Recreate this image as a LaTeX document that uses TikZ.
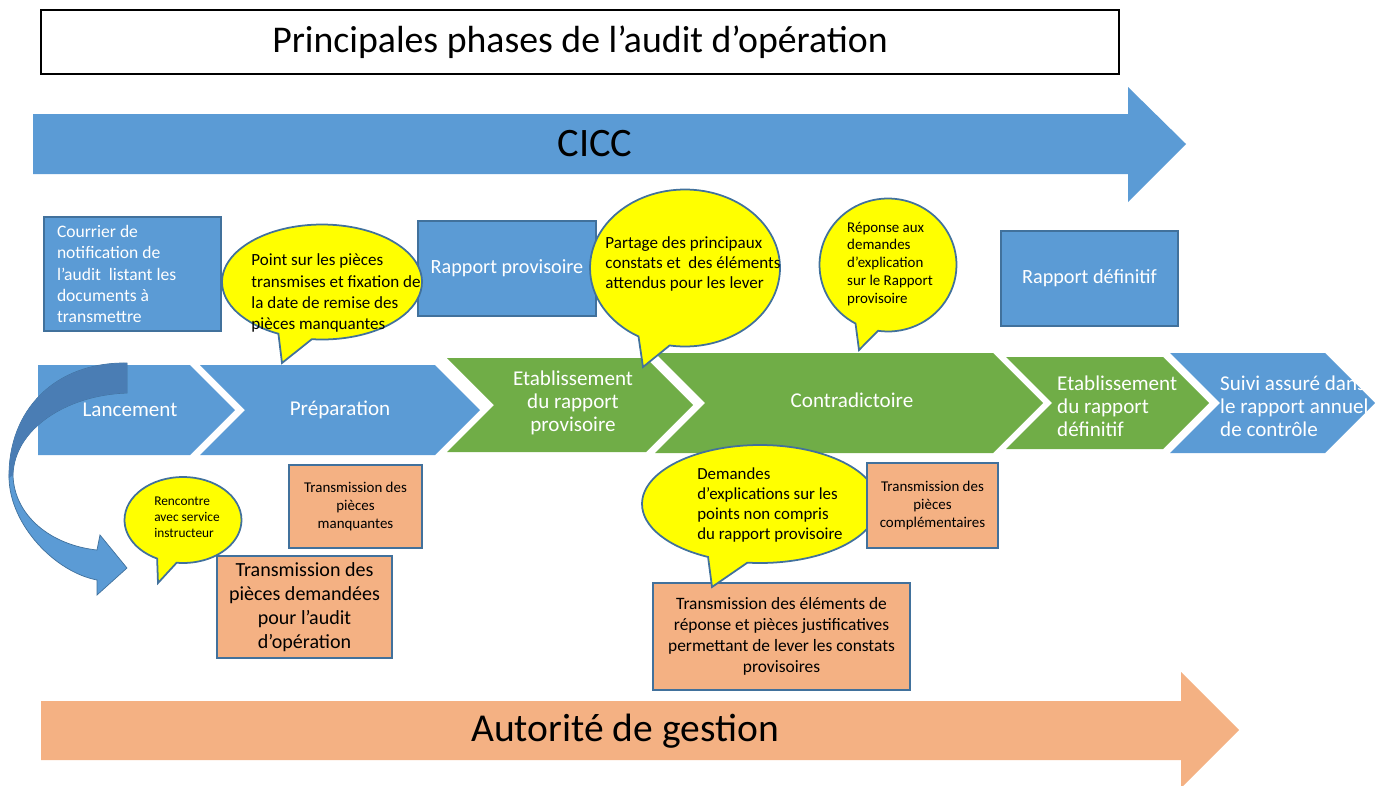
\documentclass[tikz,border=0pt]{standalone}
\usepackage{fontspec}
\setmainfont{Carlito}
\usetikzlibrary{shapes,shapes.callouts}
\definecolor{boxblue}{HTML}{5B9BD5}
\definecolor{boxline}{HTML}{41719C}
\definecolor{stepgreen}{HTML}{70AD47}
\definecolor{boxorange}{HTML}{F4B183}
\definecolor{bubbleyellow}{HTML}{FFFF00}
\definecolor{arrowdark}{HTML}{4A7DB4}
\tikzset{
	bluebox/.style   = {draw=boxline, fill=boxblue, line width=1pt, rectangle, text=white},
	orangebox/.style = {draw=boxline, fill=boxorange, line width=1pt, rectangle, align=center},
	bubble/.style    = {ellipse callout, draw=boxline, fill=bubbleyellow, line width=1pt,
		callout pointer arc=20},
	bubbletxt/.style = {align=left, inner sep=0pt},
	phasetxt/.style  = {text=white, align=center, font=\fontsize{12}{13}\selectfont},
	bluestep/.style  = {fill=boxblue},
	greenstep/.style = {fill=stepgreen}
}
\newcommand{\fsz}[2]{\fontsize{#1}{#2}\selectfont}

\begin{document}
\begin{tikzpicture}[x=0.02cm, y=-0.02cm, >=latex]
	\useasboundingbox (0,0) rectangle (1375,785);
	
	% title and the two actors
	\draw node at (580,42)[rectangle, draw, line width=0.8pt, minimum width=21.56cm,
		minimum height=1.28cm, font=\fsz{21.5}{25}] (title) {Principales phases de l’audit d’opération};
	\fill[boxblue] (33,114) -- (1128,114) -- (1128,87) -- (1186,144) -- (1128,202) -- (1128,174) -- (33,174) -- cycle;
	\node at (595,144)[font=\fsz{23}{26}] (cicc) {CICC};
	\fill[boxorange] (41,701) -- (1181,701) -- (1181,672) -- (1239,730) -- (1181,788) -- (1181,760) -- (41,760) -- cycle;
	\node at (625,731)[font=\fsz{22.5}{26}] (ag) {Autorité de gestion};
	
	% phases
	\fill[bluestep] (38,365) -- (190,365) -- (235,410) -- (190,455) -- (38,455) -- cycle;
	\fill[bluestep] (200,365) -- (435,365) -- (480,410) -- (435,455) -- (200,455) -- (245,410) -- cycle;
	\fill[greenstep] (447,358) -- (646,358) -- (693,405) -- (646,452) -- (447,452) -- (494,405) -- cycle;
	\fill[greenstep] (655,353) -- (993,353) -- (1043,403) -- (993,453) -- (655,453) -- (705,403) -- cycle;
	\fill[greenstep] (1006,357) -- (1163,357) -- (1209,403) -- (1163,449) -- (1006,449) -- (1052,403) -- cycle;
	\fill[bluestep] (1170,353) -- (1325,353) -- (1375,403) -- (1325,453) -- (1170,453) -- (1220,403) -- cycle;
	\draw
	node at (130,410)[phasetxt] (lanc) {Lancement}
	node at (340,410)[phasetxt] (prep) {Préparation}
	node at (573,403)[phasetxt] (etabprov) {Etablissement\\du rapport\\provisoire}
	node at (852,400)[phasetxt] (contra) {Contradictoire}
	node at (1051,406)[phasetxt, anchor=west, align=left] (etabdef) {Etablissement\\du rapport\\définitif}
	node at (1214,406)[phasetxt, anchor=west, align=left] (suivi) {Suivi assuré dans\\le rapport annuel\\de contrôle};
	
	% curved arrow
	\filldraw[fill=boxblue, draw=boxline, line width=0.4pt] (127,363) .. controls (55,362) and (8,410) .. (9,478)
	.. controls (10,525) and (55,572) .. (97,580) -- (97,595) -- (127,568) -- (100,535) -- (97,550)
	.. controls (50,545) and (14,515) .. (13,475) .. controls (14,430) and (65,395) .. (127,393) -- cycle;
	\fill[arrowdark] (127,363) .. controls (55,362) and (8,410) .. (9,478) -- (13,475)
	.. controls (14,430) and (65,395) .. (127,393) -- cycle;
	
	% CICC side
	\node at (132.5,274)[bluebox, minimum width=3.54cm, minimum height=2.28cm, text width=3.02cm,
		align=flush left, font=\fsz{10}{12}] (courrier) {Courrier de\\notification de\\l’audit\ \ listant les\\documents à\\transmettre};
	\node at (507,268.5)[bluebox, minimum width=3.56cm, minimum height=1.9cm, font=\fsz{11.5}{14}] (rprov) {Rapport provisoire};
	\node at (1089.5,278.5)[bluebox, minimum width=3.54cm, minimum height=1.9cm, font=\fsz{11.5}{14}] (rdef) {Rapport définitif};
	\node at (355.5,506.5)[orangebox, minimum width=2.66cm, minimum height=1.66cm, font=\fsz{8.5}{10.2}] (manq) {Transmission des\\pièces\\manquantes};
	
	\node at (322,282)[bubble, minimum width=4cm, minimum height=2.3cm, callout absolute pointer={(282,363)}] (point) {};
	\node at (336,293)[bubbletxt, font=\fsz{9.7}{12}] (pointtxt) {Point sur les pièces\\transmises et fixation de\\la date de remise des\\pièces manquantes};
	\node at (685,268)[bubble, minimum width=3.8cm, minimum height=3.14cm, callout absolute pointer={(643,367)}] (partage) {};
	\node at (693,264)[bubbletxt, font=\fsz{9.7}{11.5}] (partagetxt) {Partage des principaux\\constats et\ \ des éléments\\attendus pour les lever};
	\node at (888,265)[bubble, minimum width=2.74cm, minimum height=2.66cm, callout absolute pointer={(859,350)}] (reponse) {};
	\node at (890,264)[bubbletxt, font=\fsz{8.5}{10.2}] (reponsetxt) {Réponse aux\\demandes\\d’explication\\sur le Rapport\\provisoire};
	
	% Autorite de gestion side
	\node at (183,520)[bubble, minimum width=2.34cm, minimum height=1.72cm, callout absolute pointer={(158,583)}] (rencontre) {};
	\node at (187,517)[bubbletxt, font=\fsz{7.6}{9.1}] (rencontretxt) {Rencontre\\avec service\\instructeur};
	\node at (304.5,607)[orangebox, minimum width=3.5cm, minimum height=2.04cm, font=\fsz{11.4}{13.7}] (demandees) {Transmission des\\pièces demandées\\pour l’audit\\d’opération};
	\node at (781.5,636.5)[orangebox, minimum width=5.14cm, minimum height=2.14cm, font=\fsz{9.9}{12}] (elements) {Transmission des éléments de\\réponse et pièces justificatives\\permettant de lever les constats\\provisoires};
	\node at (760,504)[bubble, minimum width=4.72cm, minimum height=2.36cm, callout absolute pointer={(712,587)}] (demandes) {};
	\node at (770,505)[bubbletxt, font=\fsz{9.6}{11.4}] (demandestxt) {Demandes\\d’explications sur les\\points non compris\\du rapport provisoire};
	\node at (932.5,505.5)[orangebox, minimum width=2.62cm, minimum height=1.7cm, font=\fsz{8.5}{10.2}] (compl) {Transmission des\\pièces\\complémentaires};
	
\end{tikzpicture}
\end{document}
